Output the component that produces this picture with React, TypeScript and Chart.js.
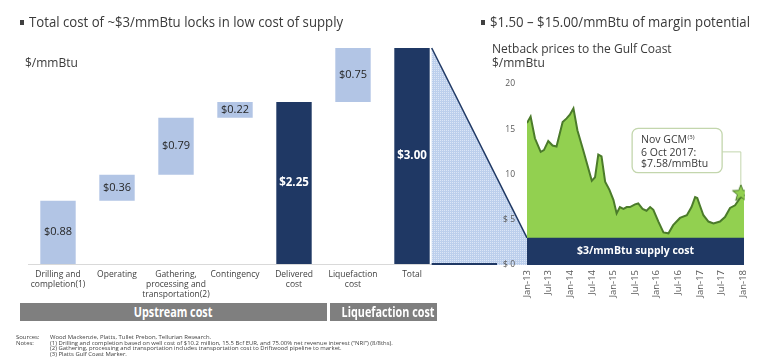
import React, { useEffect, useRef } from "react";
import { Chart, registerables } from "chart.js";
Chart.register(...registerables);

const FONT = "'Open Sans', 'DejaVu Sans', sans-serif";

// ---------- Left: waterfall of supply cost ($/mmBtu) ----------
const costCategories: (string | string[])[] = [
  ["Drilling and", "completion(1)"],
  "Operating",
  ["Gathering,", "processing and", "transportation(2)"],
  "Contingency",
  ["Delivered", "cost"],
  ["Liquefaction", "cost"],
  "Total",
];
const costValues = [0.88, 0.36, 0.79, 0.22, 2.25, 0.75, 3.0];
const costIsTotal = [false, false, false, false, true, false, true];

// ---------- Right: netback prices to the Gulf Coast ----------
// x = months since Jan-13, y = $/mmBtu
const priceMonths = [
  0, 1.0, 2.2, 3.8, 4.7, 5.9, 7.1, 8.2, 9.9, 11.0, 11.9, 12.9, 14.0, 15.6, 18.0, 18.9,
  19.8, 20.7, 21.7, 22.9, 24.0, 24.9, 25.8, 26.8, 27.7, 28.6, 30.0, 30.9, 32.1, 33.2,
  34.2, 35.1, 36.5, 37.9, 39.3, 40.6, 42.5, 44.4, 45.7, 46.7, 47.3, 48.0, 49.0, 50.4,
  51.8, 53.6, 55.0, 56.4, 57.8, 59.2, 60.3,
];
const priceValues = [
  15.7, 16.4, 14.0, 12.5, 12.7, 13.7, 13.2, 13.1, 15.8, 16.2, 16.6, 17.3, 14.9, 12.7, 9.3, 9.7,
  12.2, 12.0, 9.2, 8.3, 7.2, 5.7, 6.4, 6.2, 6.4, 6.4, 6.7, 6.8, 6.2, 6.0,
  6.4, 6.1, 4.8, 3.6, 3.5, 4.4, 5.2, 5.5, 6.4, 7.5, 7.4, 6.6, 5.5, 4.8,
  4.6, 4.8, 5.3, 6.3, 6.6, 7.4, 7.8,
];
const monthTickLabels = [
  "Jan-13", "Jul-13", "Jan-14", "Jul-14", "Jan-15", "Jul-15",
  "Jan-16", "Jul-16", "Jan-17", "Jul-17", "Jan-18",
];
const priceTickStep = 5;
const supplyCost = 3;
const supplyBandMonths = [0, 60.3];
const gcmMonth = 59.4;
const gcmValue = 8.0;
const calloutLines = ["Nov GCM", "6 Oct 2017:", "$7.58/mmBtu"];

// ---------- layout ----------
const W = 767;
const H = 364;
const LEFT_W = 445;
const RIGHT_X = 430;
const RIGHT_W = W - RIGHT_X;
const LIGHT = "#b2c5e5";
const NAVY = "#1f3864";
const GREEN = "#92d050";
const GREEN_LINE = "#4b7b2a";
const TEXT = "#3a3a3a";
const callout = { m0: 29.2, m1: 54.2, vTop: 15.1, vBottom: 10.2, vLeader: 12.5 };

function makeHatch(): CanvasPattern | string {
  const c = document.createElement("canvas");
  c.width = 4;
  c.height = 4;
  const g = c.getContext("2d");
  if (!g) return "#cddaee";
  g.fillStyle = "#bccfec";
  g.fillRect(0, 0, 4, 4);
  g.fillStyle = "#dce6f6";
  g.fillRect(0, 0, 1, 1);
  g.fillRect(2, 2, 1, 1);
  g.fillRect(2, 0, 1, 1);
  g.fillRect(0, 2, 1, 1);
  const p = g.createPattern(c, "repeat");
  return p || "#cddaee";
}

function makeStar(): HTMLCanvasElement {
  const c = document.createElement("canvas");
  const s = 20;
  c.width = s;
  c.height = s;
  const g = c.getContext("2d");
  if (g) {
    const cx = s / 2, cy = s / 2 + 0.8, R = 8.8, r = 3.7;
    g.beginPath();
    for (let i = 0; i < 10; i++) {
      const a = -Math.PI / 2 + (i * Math.PI) / 5;
      const rad = i % 2 === 0 ? R : r;
      const px = cx + rad * Math.cos(a), py = cy + rad * Math.sin(a);
      if (i === 0) g.moveTo(px, py);
      else g.lineTo(px, py);
    }
    g.closePath();
    g.fillStyle = GREEN;
    g.fill();
    g.strokeStyle = GREEN_LINE;
    g.lineWidth = 1;
    g.stroke();
  }
  return c;
}

const Txt = (p: {
  x: number; y: number; size: number; children: React.ReactNode;
  bold?: boolean; color?: string; sx?: number;
}) => (
  <div
    style={{
      position: "absolute",
      left: p.x,
      top: p.y - p.size * 0.7,
      fontSize: p.size,
      lineHeight: `${p.size * 1.4}px`,
      whiteSpace: "nowrap",
      fontWeight: p.bold ? 700 : 400,
      color: p.color || TEXT,
      transform: p.sx ? `scaleX(${p.sx})` : undefined,
      transformOrigin: "left center",
    }}
  >
    {p.children}
  </div>
);

const Bullet = ({ x, y }: { x: number; y: number }) => (
  <div style={{ position: "absolute", left: x, top: y - 2.5, width: 4, height: 5, background: "#404040" }} />
);

const Band = ({ x, w, children }: { x: number; w: number; children: React.ReactNode }) => (
  <div
    style={{
      position: "absolute", left: x, top: 303, width: w, height: 18, background: "#7f7f7f",
      color: "#fff", fontWeight: 700, fontSize: 13.5, lineHeight: "18px", textAlign: "center",
      whiteSpace: "nowrap", overflow: "hidden",
    }}
  >
    <span style={{ display: "inline-block", transform: "scaleX(0.8)", transformOrigin: "center" }}>{children}</span>
  </div>
);

export default function App() {
  const leftRef = useRef<HTMLCanvasElement>(null);
  const rightRef = useRef<HTMLCanvasElement>(null);

  useEffect(() => {
    if (!leftRef.current || !rightRef.current) return;

    // floating ranges for the waterfall
    let run = 0;
    const ranges = costValues.map((v, i) => {
      if (costIsTotal[i]) {
        run = v;
        return [0, v];
      }
      const r = [run, run + v];
      run += v;
      return r;
    });

    const valueLabels = {
      id: "valueLabels",
      afterDatasetsDraw(chart: any) {
        const ctx = chart.ctx;
        chart.getDatasetMeta(0).data.forEach((el: any, i: number) => {
          const { x, y, base } = el.getProps(["x", "y", "base"], true);
          ctx.save();
          ctx.font = costIsTotal[i] ? `bold 11.5px ${FONT}` : `11px ${FONT}`;
          ctx.fillStyle = costIsTotal[i] ? "#ffffff" : "#262626";
          ctx.textAlign = "center";
          ctx.textBaseline = "middle";
          ctx.fillText(`$${costValues[i].toFixed(2)}`, x, (y + base) / 2);
          ctx.restore();
        });
      },
    };

    const left = new Chart(leftRef.current, {
      type: "bar",
      data: {
        labels: costCategories as any,
        datasets: [
          {
            data: ranges as any,
            backgroundColor: costIsTotal.map((t) => (t ? NAVY : LIGHT)),
            borderWidth: 0,
            barPercentage: 0.6,
            categoryPercentage: 1,
          },
        ],
      },
      options: {
        responsive: false,
        animation: false,
        events: [],
        layout: { padding: { left: 28.5, right: 3.5, top: 12, bottom: 64 } },
        plugins: { legend: { display: false }, tooltip: { enabled: false } },
        scales: {
          x: {
            grid: { display: false, drawTicks: false },
            border: { display: true, color: "#d9d9d9", width: 1 },
            ticks: {
              autoSkip: false,
              maxRotation: 0,
              minRotation: 0,
              padding: 6,
              color: "#404040",
              font: { family: FONT, size: 8.5, lineHeight: 1.15 },
            },
            afterFit: (s: any) => {
              s.height = 36;
              s.paddingLeft = 0;
              s.paddingRight = 0;
            },
          },
          y: { display: false, min: 0, max: 3.5 },
        },
      },
      plugins: [valueLabels],
    });

    const hatch = makeHatch();
    const star = makeStar();

    const decor = {
      id: "decor",
      beforeDraw(chart: any) {
        const ctx = chart.ctx;
        const el = left.getDatasetMeta(0).data[costValues.length - 1] as any;
        const { x, y, width } = el.getProps(["x", "y", "width"], true);
        const xL = x + width / 2 + 2 - RIGHT_X;
        const yTop = y;
        const xs = chart.scales.x, ys = chart.scales.y;
        const xR = xs.getPixelForValue(0);
        const yR = ys.getPixelForValue(supplyCost);
        const y0 = ys.getPixelForValue(0);
        ctx.save();
        ctx.beginPath();
        ctx.moveTo(xL, yTop);
        ctx.lineTo(xR, yR);
        ctx.lineTo(xR, y0);
        ctx.lineTo(xL, y0);
        ctx.closePath();
        ctx.fillStyle = hatch;
        ctx.fill();
        ctx.beginPath();
        ctx.moveTo(xL, yTop);
        ctx.lineTo(xR, yR);
        ctx.strokeStyle = NAVY;
        ctx.lineWidth = 1.5;
        ctx.stroke();
        ctx.beginPath();
        ctx.moveTo(xL, y0 - 1);
        ctx.lineTo(chart.chartArea.left - 30, y0 - 1);
        ctx.lineWidth = 2;
        ctx.stroke();
        ctx.restore();
      },
      afterDatasetsDraw(chart: any) {
        const ctx = chart.ctx;
        const xs = chart.scales.x, ys = chart.scales.y;
        // band label
        ctx.save();
        ctx.font = `bold 10.5px ${FONT}`;
        ctx.fillStyle = "#ffffff";
        ctx.textAlign = "center";
        ctx.textBaseline = "middle";
        ctx.fillText(
          `$${supplyCost}/mmBtu supply cost`,
          (xs.getPixelForValue(supplyBandMonths[0]) + xs.getPixelForValue(supplyBandMonths[1])) / 2,
          (ys.getPixelForValue(0) + ys.getPixelForValue(supplyCost)) / 2
        );
        // callout
        const bx1 = xs.getPixelForValue(callout.m0), bx2 = xs.getPixelForValue(callout.m1);
        const by1 = ys.getPixelForValue(callout.vTop), by2 = ys.getPixelForValue(callout.vBottom);
        const starEl = chart.getDatasetMeta(0).data[0];
        const ly = ys.getPixelForValue(callout.vLeader);
        ctx.strokeStyle = "#c3d6ad";
        ctx.lineWidth = 1;
        ctx.beginPath();
        ctx.moveTo(bx2, ly);
        ctx.lineTo(starEl.x, ly);
        ctx.lineTo(starEl.x, starEl.y - 8);
        ctx.stroke();
        ctx.beginPath();
        ctx.roundRect(bx1, by1, bx2 - bx1, by2 - by1, 6);
        ctx.fillStyle = "#ffffff";
        ctx.fill();
        ctx.lineWidth = 1.3;
        ctx.stroke();
        ctx.fillStyle = TEXT;
        ctx.textAlign = "left";
        ctx.font = `10.5px ${FONT}`;
        const tx = bx1 + 9;
        ctx.fillText(calloutLines[0], tx, by1 + 12);
        const w0 = ctx.measureText(calloutLines[0]).width;
        ctx.font = `6px ${FONT}`;
        ctx.fillText("(3)", tx + w0 + 0.5, by1 + 9);
        ctx.font = `10.5px ${FONT}`;
        ctx.fillText(calloutLines[1], tx, by1 + 24.5);
        ctx.fillText(calloutLines[2], tx, by1 + 36);
        ctx.restore();
      },
    };

    const right = new Chart(rightRef.current, {
      type: "line",
      data: {
        datasets: [
          {
            data: [{ x: gcmMonth, y: gcmValue }],
            showLine: false,
            pointStyle: star as any,
            pointRadius: 10,
            order: 0,
          },
          {
            data: supplyBandMonths.map((m) => ({ x: m, y: supplyCost })),
            fill: "origin",
            backgroundColor: NAVY,
            borderWidth: 0,
            pointRadius: 0,
            order: 1,
          },
          {
            data: priceMonths.map((m, i) => ({ x: m, y: priceValues[i] })),
            fill: "origin",
            backgroundColor: GREEN,
            borderColor: GREEN_LINE,
            borderWidth: 2,
            pointRadius: 0,
            tension: 0,
            order: 2,
          },
        ],
      },
      options: {
        responsive: false,
        animation: false,
        events: [],
        layout: { padding: { left: 73, right: 22.2, top: 84, bottom: 59 } },
        plugins: { legend: { display: false }, tooltip: { enabled: false } },
        scales: {
          x: {
            type: "linear",
            min: 0,
            max: 60.5,
            grid: { display: false, drawTicks: false },
            border: { display: false },
            afterBuildTicks: (s: any) => {
              s.ticks = monthTickLabels.map((_, i) => ({ value: i * 6 }));
            },
            ticks: {
              autoSkip: false,
              minRotation: 90,
              maxRotation: 90,
              padding: 5,
              color: "#595959",
              font: { family: FONT, size: 9.5 },
              callback: (v: any) => monthTickLabels[Math.round(Number(v) / 6)],
            },
            afterFit: (s: any) => {
              s.height = 40;
              s.paddingLeft = 0;
              s.paddingRight = 0;
            },
          },
          y: {
            min: 0,
            max: 20,
            grid: { display: false, drawTicks: false },
            border: { display: false },
            ticks: {
              stepSize: priceTickStep,
              padding: 12,
              color: "#595959",
              font: { family: FONT, size: 8.5 },
              callback: (v: any) => `$ ${v}`,
            },
            afterFit: (s: any) => {
              s.width = 24;
              s.paddingTop = 0;
              s.paddingBottom = 0;
            },
          },
        },
      },
      plugins: [decor],
    });

    return () => {
      right.destroy();
      left.destroy();
    };
  }, []);

  return (
    <div
      style={{
        position: "absolute",
        left: 0,
        top: 0,
        width: W,
        height: H,
        background: "#ffffff",
        fontFamily: FONT,
        overflow: "hidden",
      }}
    >
      <canvas ref={leftRef} width={LEFT_W} height={H} style={{ position: "absolute", left: 0, top: 0, width: LEFT_W, height: H }} />
      <canvas ref={rightRef} width={RIGHT_W} height={H} style={{ position: "absolute", left: RIGHT_X, top: 0, width: RIGHT_W, height: H }} />

      <Bullet x={20} y={22} />
      <Txt x={29} y={22} size={14.5} sx={0.91}>Total cost of ~$3/mmBtu locks in low cost of supply</Txt>
      <Bullet x={481} y={22} />
      <Txt x={490} y={22} size={14.5} sx={0.91}>$1.50 – $15.00/mmBtu of margin potential</Txt>

      <Txt x={25} y={63} size={12}>$/mmBtu</Txt>
      <Txt x={492} y={49} size={12}>Netback prices to the Gulf Coast</Txt>
      <Txt x={492} y={63} size={12}>$/mmBtu</Txt>

      <Band x={20} w={307}>Upstream cost</Band>
      <Band x={330} w={107}>Liquefaction cost</Band>

      <Txt x={16} y={337.5} size={5.4} sx={1.1} color="#404040">Sources:</Txt>
      <Txt x={50} y={337.5} size={5.4} sx={1.1} color="#404040">Wood Mackenzie, Platts, Tullet Prebon, Tellurian Research.</Txt>
      <Txt x={16} y={343.3} size={5.4} sx={1.1} color="#404040">Notes:</Txt>
      <Txt x={50} y={343.3} size={5.4} sx={1.1} color="#404040">(1) Drilling and completion based on well cost of $10.2 million, 15.5 Bcf EUR, and 75.00% net revenue interest (“NRI”) (8/8ths).</Txt>
      <Txt x={50} y={349.1} size={5.4} sx={1.1} color="#404040">(2) Gathering, processing and transportation includes transportation cost to Driftwood pipeline to market.</Txt>
      <Txt x={50} y={354.9} size={5.4} sx={1.1} color="#404040">(3) Platts Gulf Coast Marker.</Txt>
    </div>
  );
}
